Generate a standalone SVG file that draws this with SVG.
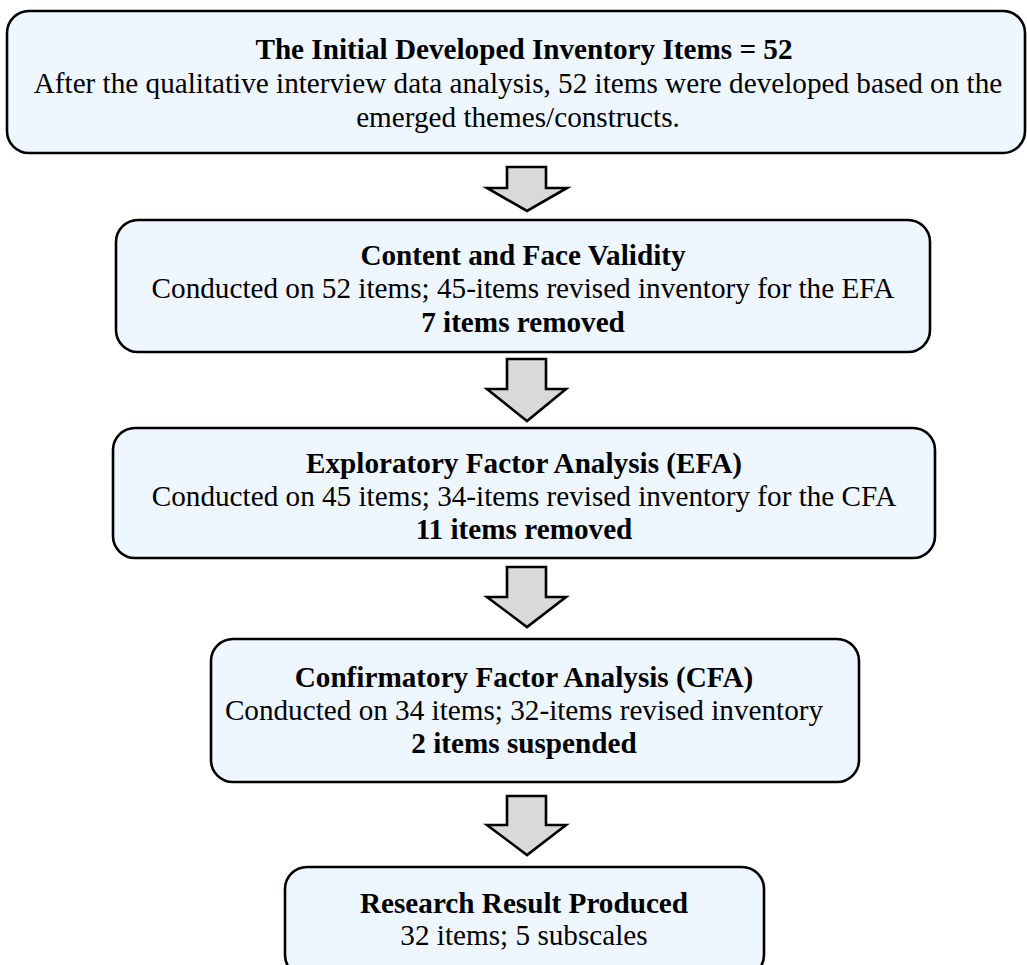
<svg xmlns="http://www.w3.org/2000/svg" width="1027" height="965" viewBox="0 0 1027 965">
<style>
.box{fill:#EEF6FF;stroke:#000;stroke-width:2.6}
.arr{fill:#D9D9D9;stroke:#000;stroke-width:2.6;stroke-linejoin:miter}
text{font-family:"Liberation Serif","Times New Roman",serif;font-size:29.2px;fill:#000;text-anchor:middle}
.b{font-weight:bold}
</style>
<rect width="1027" height="965" fill="#fff"/>
<g id="n1">
<rect class="box" x="7" y="11" width="1018" height="142" rx="22"/>
<text class="b" x="524" y="59">The Initial Developed Inventory Items = 52</text>
<text x="518" y="93">After the qualitative interview data analysis, 52 items were developed based on the</text>
<text x="518" y="127">emerged themes/constructs.</text>
</g>
<g id="n2">
<rect class="box" x="116" y="220" width="814" height="132" rx="22"/>
<text class="b" x="523" y="265">Content and Face Validity</text>
<text x="523" y="298">Conducted on 52 items; 45-items revised inventory for the EFA</text>
<text class="b" x="523" y="332">7 items removed</text>
</g>
<g id="n3">
<rect class="box" x="113" y="428" width="822" height="130" rx="22"/>
<text class="b" x="524" y="473">Exploratory Factor Analysis (EFA)</text>
<text x="524" y="506">Conducted on 45 items; 34-items revised inventory for the CFA</text>
<text class="b" x="524" y="539">11 items removed</text>
</g>
<g id="n4">
<rect class="box" x="211" y="639" width="648" height="143" rx="22"/>
<text class="b" x="524" y="687">Confirmatory Factor Analysis (CFA)</text>
<text x="524" y="720">Conducted on 34 items; 32-items revised inventory</text>
<text class="b" x="524" y="753">2 items suspended</text>
</g>
<g id="n5">
<rect class="box" x="285" y="867" width="479" height="110" rx="22"/>
<text class="b" x="524" y="913">Research Result Produced</text>
<text x="524" y="945">32 items; 5 subscales</text>
</g>
<g id="connectors">
<path class="arr" d="M507,167 H546 V188 H567 L527,211 L487,188 H507 Z"/>
<path class="arr" d="M507,359 H546 V389 H566 L527,421 L487,389 H507 Z"/>
<path class="arr" d="M507,567 H546 V597 H566 L527,627 L487,597 H507 Z"/>
<path class="arr" d="M507,796 H546 V825 H566 L527,855 L487,825 H507 Z"/>
</g>
</svg>
